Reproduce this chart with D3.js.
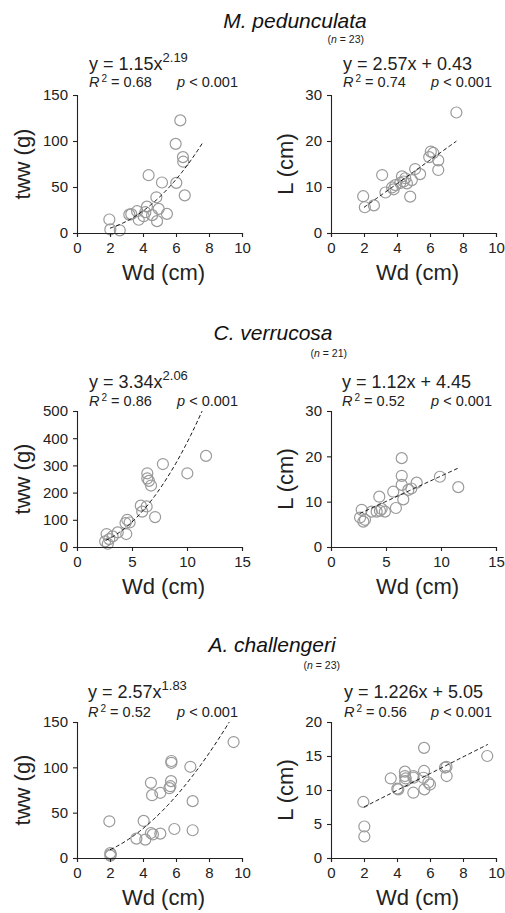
<!DOCTYPE html>
<html><head><meta charset="utf-8">
<script src="https://cdn.jsdelivr.net/npm/d3@7"></script>
<style>
html,body{margin:0;padding:0;background:#fff;}
svg{display:block;font-family:"Liberation Sans",Arial,Helvetica,sans-serif;}
</style></head>
<body>
<script>
// ---------- DATA ----------
const species = ["M. pedunculata", "C. verrucosa", "A. challengeri"];
const sampleSizes = [23, 21, 23];

// M. pedunculata
const mpWdTww = [1.96,2.02,2.59,3.17,3.29,3.64,3.74,4.04,4.14,4.24,4.34,4.55,4.81,4.85,4.95,5.15,5.45,5.98,6.02,6.26,6.42,6.44,6.53];
const mpTww   = [14.7,3.9,2.9,20,20.5,23.7,14.4,18.3,22.6,28.7,62.8,19.4,38.8,12.9,26.2,54.9,20.8,96.9,54.5,122.4,82.5,77.5,40.9];
const mpWdL   = [1.95,2.05,2.6,3.1,3.3,3.7,3.9,4.2,4.3,4.5,4.6,4.8,4.9,5.1,5.4,5.95,6.05,6.2,6.5,6.5,3.8,4.4,7.6];
const mpL     = [8.0,5.6,6.0,12.6,8.8,9.9,10.4,10.9,12.3,11.9,10.8,7.9,11.5,13.9,12.8,16.5,17.7,17.4,15.8,13.7,9.5,11.2,26.2];

// C. verrucosa
const cvWdTww = [2.56,2.69,2.8,2.93,3.24,3.70,4.41,4.48,4.57,4.78,5.80,5.93,6.33,6.39,6.39,6.54,6.73,7.10,7.81,10.03,11.73];
const cvTww   = [20.7,47.6,12,29,39,53.7,88,47.6,100,90,152,130,149,271,252,243,226,110,305,271,335];
const cvWdL   = [2.64,2.79,2.94,3.09,3.7,4.15,4.45,4.39,4.6,4.9,5.66,5.9,6.43,6.43,6.57,6.43,7.03,7.3,7.79,9.9,11.57];
const cvL     = [6.5,8.2,5.6,6.0,7.8,7.8,8.0,11.1,8.4,7.8,12.2,8.6,13.7,15.7,10.5,19.6,12.6,12.9,14.2,15.5,13.2];

// A. challengeri
const acWdTww = [1.96,2.02,2.02,2.05,3.6,4.04,4.14,4.48,4.55,4.48,4.6,5.05,5.05,5.6,5.66,5.7,5.72,5.72,5.9,6.87,7.01,7.01,9.49];
const acTww   = [40.5,5.5,2.6,4,21.4,40.9,20.3,27.6,69.3,82.9,26,71.9,26.9,77,79.2,84.8,107,105,32,100.6,62.7,30.6,127.9];
const acWdL   = [1.96,2.02,2.02,3.62,4.02,4.08,4.48,4.48,4.53,4.5,4.99,4.99,5.0,5.64,5.64,5.6,5.66,5.9,6.0,6.91,7.01,7.0,9.47];
const acL     = [8.24,4.63,3.17,11.7,10.2,10.1,12.7,12.05,11.7,11.3,12.05,9.6,11.8,16.2,12.8,11.8,10.1,11.1,10.8,13.3,12.05,13.4,15.0];

// Fitted models: [a, b] and fitted Wd range
const powerFits = [[1.15, 2.19], [3.34, 2.06], [2.57, 1.83]];
const linearFits = [[2.57, 0.43], [1.12, 4.45], [1.226, 5.05]];
const fitRanges = [[2, 7.6], [2.6, 11.7], [2, 9.5]];
const r2Power = ["0.68", "0.86", "0.52"];
const r2Linear = ["0.74", "0.52", "0.56"];
const eqPowerCoef = ["1.15", "3.34", "2.57"];
const eqPowerExp = ["2.19", "2.06", "1.83"];
const eqLinear = ["y = 2.57x + 0.43", "y = 1.12x + 4.45", "y = 1.226x + 5.05"];

// Axis ticks
const xTicksRows = [[0,2,4,6,8,10],[0,5,10,15],[0,2,4,6,8,10]];
const yTicksTww = [[0,50,100,150],[0,100,200,300,400,500],[0,50,100,150]];
const yTicksL = [[0,10,20,30],[0,10,20,30],[0,5,10,15,20]];

// ---------- LAYOUT ----------
const W = 505, H = 913;
const cols = [{x0:77, x1:242}, {x0:331, x1:496}];
const rows = [{y0:95, y1:233}, {y0:411, y1:547}, {y0:722, y1:858}];
const titleLayout = [{cx:295, right:364, yb:28, nb:43}, {cx:273, right:347, yb:340, nb:357}, {cx:272, right:340, yb:652, nb:669}];
const eqBase = [70, 388, 698];
const r2Base = [87, 406, 717];
const eqX = [[89, 343],[89, 342],[88, 344]];
const pRight = [[238, 492],[238, 492],[238, 492]];

const svg = d3.select("body").append("svg").attr("width", W).attr("height", H);
const defs = svg.append("defs");

const rowData = [
  {tww:[mpWdTww, mpTww], L:[mpWdL, mpL]},
  {tww:[cvWdTww, cvTww], L:[cvWdL, cvL]},
  {tww:[acWdTww, acTww], L:[acWdL, acL]}
];

const textCol = "#222";

function drawPanel(ri, ci, xs, ys, xTicks, yTicks, fitFn, yLabel) {
  const c = cols[ci], r = rows[ri];
  const x = d3.scaleLinear().domain([xTicks[0], xTicks[xTicks.length-1]]).range([c.x0, c.x1]);
  const y = d3.scaleLinear().domain([yTicks[0], yTicks[yTicks.length-1]]).range([r.y1, r.y0]);
  const g = svg.append("g");

  const clipId = "clip" + ri + ci;
  defs.append("clipPath").attr("id", clipId).append("rect")
    .attr("x", c.x0).attr("y", r.y0).attr("width", c.x1 - c.x0).attr("height", r.y1 - r.y0);

  // points
  g.append("g").selectAll("circle").data(xs.map((v,i)=>[v, ys[i]])).join("circle")
    .attr("cx", d=>x(d[0])).attr("cy", d=>y(d[1])).attr("r", 5.5)
    .attr("fill", "none").attr("stroke", "#9a9a9a").attr("stroke-width", 1.2);

  // fit line
  const fr = fitRanges[ri];
  const pts = d3.range(0, 81).map(i => { const xv = fr[0] + (fr[1]-fr[0])*i/80; return [xv, fitFn(xv)]; });
  g.append("path").attr("clip-path", `url(#${clipId})`)
    .attr("d", d3.line().x(d=>x(d[0])).y(d=>y(d[1]))(pts))
    .attr("fill", "none").attr("stroke", "#111").attr("stroke-width", 1).attr("stroke-dasharray", "4,2.5");

  // axes
  const xa = g.append("g").attr("transform", `translate(0,${r.y1})`)
    .call(d3.axisBottom(x).tickValues(xTicks).tickSizeOuter(0).tickSize(4).tickPadding(5));
  const ya = g.append("g").attr("transform", `translate(${c.x0},0)`)
    .call(d3.axisLeft(y).tickValues(yTicks).tickSizeOuter(0).tickSize(4).tickPadding(5));
  [xa, ya].forEach(a => {
    a.select(".domain").attr("stroke", "#222").attr("stroke-width", 1.1);
    a.selectAll(".tick line").attr("stroke", "#222").attr("stroke-width", 1.1);
    a.selectAll(".tick text").attr("font-size", 15).attr("fill", textCol)
      .attr("font-family", "Liberation Sans, Arial, sans-serif");
  });

  // axis labels
  svg.append("text").attr("x", (c.x0 + c.x1)/2 + 4).attr("y", r.y1 + 47)
    .attr("text-anchor", "middle").attr("font-size", 22).attr("fill", textCol).text("Wd (cm)");
  const lx = ci === 0 ? 30 : 293;
  svg.append("text").attr("transform", `translate(${lx},${(r.y0 + r.y1)/2}) rotate(-90)`)
    .attr("text-anchor", "middle").attr("font-size", 22).attr("fill", textCol).text(yLabel);
}

function drawStats(ri, ci, r2) {
  const t = svg.append("text").attr("x", eqX[ri][ci]).attr("y", r2Base[ri]).attr("font-size", 14.5).attr("fill", textCol);
  t.append("tspan").attr("font-style", "italic").text("R");
  t.append("tspan").attr("font-size", 10).attr("dy", -5).attr("dx", 2).text("2");
  t.append("tspan").attr("dy", 5).text(" = " + r2);
  const p = svg.append("text").attr("x", pRight[ri][ci]).attr("y", r2Base[ri]).attr("font-size", 14.5)
    .attr("text-anchor", "end").attr("fill", textCol);
  p.append("tspan").attr("font-style", "italic").text("p");
  p.append("tspan").text(" < 0.001");
}

for (let ri = 0; ri < 3; ri++) {
  const tl = titleLayout[ri];
  svg.append("text").attr("x", tl.cx).attr("y", tl.yb).attr("text-anchor", "middle")
    .attr("font-size", 21).attr("font-style", "italic").attr("fill", "#111").text(species[ri]);
  const nt = svg.append("text").attr("x", tl.right).attr("y", tl.nb).attr("text-anchor", "end")
    .attr("font-size", 10.5).attr("fill", textCol);
  nt.append("tspan").text("(");
  nt.append("tspan").attr("font-style", "italic").text("n");
  nt.append("tspan").text(" = " + sampleSizes[ri] + ")");

  const pf = powerFits[ri], lf = linearFits[ri];
  drawPanel(ri, 0, rowData[ri].tww[0], rowData[ri].tww[1], xTicksRows[ri], yTicksTww[ri],
    v => pf[0] * Math.pow(v, pf[1]), "tww (g)");
  drawPanel(ri, 1, rowData[ri].L[0], rowData[ri].L[1], xTicksRows[ri], yTicksL[ri],
    v => lf[0] * v + lf[1], "L (cm)");

  // equations
  const e1 = svg.append("text").attr("x", eqX[ri][0]).attr("y", eqBase[ri]).attr("font-size", 18).attr("fill", textCol);
  e1.append("tspan").text("y = " + eqPowerCoef[ri] + "x");
  e1.append("tspan").attr("font-size", 13).attr("dy", -8).text(eqPowerExp[ri]);
  svg.append("text").attr("x", eqX[ri][1]).attr("y", eqBase[ri]).attr("font-size", 18).attr("fill", textCol).text(eqLinear[ri]);

  drawStats(ri, 0, r2Power[ri]);
  drawStats(ri, 1, r2Linear[ri]);
}
</script>
</body></html>
